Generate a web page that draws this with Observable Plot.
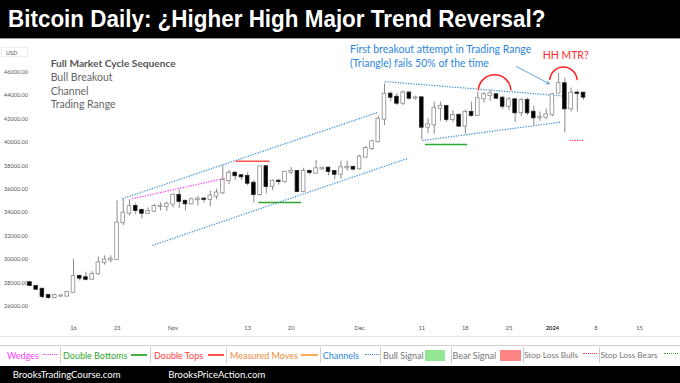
<!DOCTYPE html>
<html><head><meta charset="utf-8">
<script src="https://cdn.jsdelivr.net/npm/d3@7"></script>
<script src="https://cdn.jsdelivr.net/npm/@observablehq/plot@0.6"></script>
<style>
html,body{margin:0;padding:0;background:#fff;}
body{width:680px;height:383px;position:relative;overflow:hidden;font-family:Lato,"Open Sans",sans-serif;}
#title{position:absolute;left:0;top:0;width:680px;height:38px;background:#000;border-bottom:1px solid #9a9a9a;}
#title span{position:absolute;left:8px;top:0;color:#fff;font-family:"Liberation Sans Narrow","Liberation Sans",sans-serif;font-weight:bold;font-size:24px;line-height:37px;white-space:nowrap;transform:scaleX(0.935);transform-origin:0 50%;}
#chart{position:absolute;left:0;top:39px;width:680px;height:297px;border-bottom:1px solid #e6e6e6;}
.t{position:absolute;white-space:nowrap;line-height:14px;}
#legend{position:absolute;left:0;top:345px;width:680px;height:21px;border-top:1px solid #cfcfcf;}
.lg{position:absolute;top:2px;line-height:15px;font-size:9px;white-space:nowrap;}
.sep{position:absolute;top:1px;width:1px;height:16px;background:#cfcfcf;}
.sw{position:absolute;}
#footer{position:absolute;left:0;top:366px;width:680px;height:17px;background:#000;color:#fff;}
#footer span{position:absolute;top:1px;line-height:15px;font-size:9.5px;}
#usd{position:absolute;left:1px;top:47px;width:27px;height:10px;border:1px solid #ececec;font-size:5.5px;line-height:10px;color:#555;padding-left:4px;box-sizing:border-box;}
</style></head>
<body>
<div id="title"><span>Bitcoin Daily: ¿Higher High Major Trend Reversal?</span></div>
<div id="chart"></div>
<div id="usd">USD</div>
<div class="t" style="left:50.7px;top:56.3px;font-size:10.2px;font-weight:bold;color:#555;">Full Market Cycle Sequence</div>
<div class="t" style="left:50.7px;top:69.7px;font-size:10.5px;color:#666;">Bull Breakout</div>
<div class="t" style="left:50.7px;top:83.7px;font-size:10.5px;color:#666;">Channel</div>
<div class="t" style="left:50.7px;top:97px;font-size:10.5px;color:#666;">Trading Range</div>
<div class="t" style="left:350px;top:42.3px;font-size:10.5px;color:#2e86de;">First breakout attempt in Trading Range</div>
<div class="t" style="left:350px;top:56.3px;font-size:10.5px;color:#2e86de;">(Triangle) fails 50% of the time</div>
<div class="t" style="left:542.7px;top:48px;font-size:10.5px;color:#ff2a2a;">HH MTR?</div>

<div id="legend">
  <span class="lg" style="left:7px;color:#ff3cff;">Wedges</span>
  <span class="sw" style="left:43px;top:8px;width:14px;border-top:1.3px dotted #ff3cff;"></span>
  <span class="sep" style="left:60px;"></span>
  <span class="lg" style="left:63px;color:#2ea82e;">Double Bottoms</span>
  <span class="sw" style="left:131px;top:8px;width:16px;height:2px;background:#43b043;"></span>
  <span class="sep" style="left:150px;"></span>
  <span class="lg" style="left:154px;color:#ff3b3b;">Double Tops</span>
  <span class="sw" style="left:208px;top:8px;width:16px;height:2px;background:#ff5050;"></span>
  <span class="sep" style="left:226px;"></span>
  <span class="lg" style="left:230px;color:#ef8a3c;">Measured Moves</span>
  <span class="sw" style="left:301px;top:8px;width:17px;height:2px;background:#ffac5a;"></span>
  <span class="sep" style="left:320px;"></span>
  <span class="lg" style="left:322.7px;color:#2e86de;">Channels</span>
  <span class="sw" style="left:365px;top:8px;width:14px;border-top:1.3px dotted #3d8fd8;"></span>
  <span class="sep" style="left:380px;"></span>
  <span class="lg" style="left:383px;color:#777;">Bull Signal</span>
  <span class="sw" style="left:425px;top:4px;width:20px;height:11px;background:#94e694;"></span>
  <span class="sep" style="left:451px;"></span>
  <span class="lg" style="left:452.5px;color:#777;">Bear Signal</span>
  <span class="sw" style="left:500px;top:4px;width:21px;height:11px;background:#ff8585;"></span>
  <span class="sep" style="left:522.5px;"></span>
  <span class="lg" style="left:524px;color:#777;font-size:8.3px;">Stop Loss Bulls</span>
  <span class="sw" style="left:583px;top:7px;width:14px;border-top:1.3px dotted #ff3030;"></span>
  <span class="sep" style="left:598.5px;"></span>
  <span class="lg" style="left:600.5px;color:#777;font-size:8.3px;">Stop Loss Bears</span>
  <span class="sw" style="left:664px;top:7px;width:14px;border-top:1.3px dotted #33aa33;"></span>
</div>
<div id="footer"><span style="left:12.7px;">BrooksTradingCourse.com</span><span style="left:168.3px;">BrooksPriceAction.com</span></div>

<script>
// ---- candle data (daily, starting 2023-10-09) ----
const startDay = "2023-10-09";
const opens = [
  28000,27680,27450,26910,26740,26860,26860,27170,28540,28430,28310,28770,29730,29950,29990,33130,33950,34520,34180,33950,34120,34520,34520,
  34720,35460,34970,34750,35100,35150,35120,35400,35690,36740,37370,37150,37090,36510,35550,37920,36230,36680,36650,37450,37510,35800,37510,37370,37740,37800,37510,37280,37830,37860,
  37750,38740,39480,40050,41980,44120,43860,43350,44220,43780,43810,41300,41500,42920,43070,41960,42300,41390,42560,42300,43730,44010,44070,43780,43090,43640,42530,43580,42580,42100,42150,
  42360,44210,45010,42870,44210,44210];
const highs = [
  28100,27750,27500,26950,27050,26950,27250,30000,28600,28900,28950,30200,30300,30300,35000,35150,35100,34800,34300,34400,34700,34850,34900,
  35600,35950,35000,35250,35400,35300,35850,36000,38000,37600,37450,37250,37400,36750,37950,37950,36800,36850,37500,37850,37550,37800,37650,38450,37850,37850,37550,38400,38400,38000,
  38900,39650,40200,42250,45000,44300,44200,44400,44300,43950,43850,42050,43450,43450,43100,42700,42450,42750,43450,44300,44250,44400,44100,43950,43850,43650,43750,43800,43100,42600,42850,
  44200,45900,45500,44650,44400,44250];
const lows = [
  27700,27350,26630,26600,26700,26800,26800,27100,28150,28150,28200,28650,29500,29700,29900,32900,33700,33800,33450,33900,34000,34150,34100,
  34400,34350,34150,34650,34550,34800,34500,35100,35550,36400,36750,36750,36300,34800,35400,35600,35900,36350,36500,37250,35700,35700,37200,37300,37600,37150,36800,36850,37550,37550,
  37650,38650,39300,39950,41450,43450,43150,43150,43600,43600,40220,40750,40700,41800,41700,41700,41300,40700,42150,42200,43350,43500,43650,42800,42750,41700,42200,42300,41400,41800,41950,
  42200,44150,40800,42600,42600,43600];
const closes = [
  27770,27450,26830,26740,26900,26870,27180,28520,28400,28300,28720,29700,29950,30020,33100,33950,34500,34180,33950,34100,34520,34540,34720,
  35480,34960,34750,35100,35150,35130,35420,35680,36740,37370,37150,37060,36510,35550,37900,36230,36680,36650,37450,37510,35800,37510,37420,37740,37800,37510,37280,37830,37880,37720,
  38740,39480,40050,41980,44120,43860,43350,44220,43780,43800,41300,41500,42920,43070,41960,42300,41390,42560,42300,43730,44070,44150,43780,43090,43640,42530,43580,42530,42100,42150,42360,
  44070,45010,42870,44210,44190,43870];

// ---- axes ----
const yTicks = [26000,28000,30000,32000,34000,36000,38000,40000,42000,44000,46000];
const xTickDates = ["2023-10-16","2023-10-23","2023-11-01","2023-11-13","2023-11-20","2023-12-01","2023-12-11","2023-12-18","2023-12-25","2024-01-01","2024-01-08","2024-01-15"];
const xTickLabels = ["16","23","Nov","13","20","Dec","11","18","25","2024","8","15"];
const xDomain = ["2023-10-06","2024-01-20"];
const yDomain = [25000, 47000];

// ---- annotations (date, price) ----
const channelX1 = ["2023-10-23T20:00Z","2023-10-28T16:00Z","2023-12-05T01:00Z","2023-12-11T01:30Z"];
const channelY1 = [35180, 31190, 45200, 40160];
const channelX2 = ["2023-12-04T00:00Z","2023-12-08T20:00Z","2024-01-02T14:00Z","2024-01-02T07:00Z"];
const channelY2 = [42580, 38650, 43970, 41730];
const wedgeX1 = ["2023-10-25T10:00Z"], wedgeY1 = [35180], wedgeX2 = ["2023-11-09T10:00Z"], wedgeY2 = [36940];
const doubleTopX1 = ["2023-11-11T01:00Z"], doubleTopX2 = ["2023-11-16T12:00Z"], doubleTopY = [38390];
const doubleBottomX1 = ["2023-11-14T17:00Z","2023-12-11T12:00Z"], doubleBottomX2 = ["2023-11-21T14:00Z","2023-12-18T07:00Z"], doubleBottomY = [34860, 39820];
const stopBullsX1 = ["2024-01-03T19:00Z"], stopBullsX2 = ["2024-01-06T00:00Z"], stopBullsY = [40160];
const arcX1 = ["2023-12-20T02:00Z","2023-12-31T14:00Z"], arcX2 = ["2023-12-25T08:00Z","2024-01-04T23:00Z"], arcY = [44500, 45380];
const arrowX1 = ["2023-12-26T05:00Z"], arrowY1 = [46490], arrowX2 = ["2023-12-31T12:00Z"], arrowY2 = [45010];

const dates = d3.utcDay.range(new Date(startDay), d3.utcDay.offset(new Date(startDay), opens.length));
const candles = dates.map((date, i) => ({date, open: opens[i], high: highs[i], low: lows[i], close: closes[i]}));
const seg = (x1, y1, x2, y2) => x1.map((x, i) => ({x1: new Date(x), y1: y1[i], x2: new Date(x2[i]), y2: y2[i]}));
const tickLabel = new Map(xTickDates.map((d, i) => [+new Date(d), xTickLabels[i]]));
const normalTicks = xTickDates.filter((d, i) => xTickLabels[i] !== "2024").map(d => new Date(d));
const boldTicks = xTickDates.filter((d, i) => xTickLabels[i] === "2024").map(d => new Date(d));

const blue = "#3d8fd8";
const chart = Plot.plot({
  width: 680, height: 297,
  marginLeft: 10.8, marginRight: 9.9, marginTop: 21, marginBottom: 18.6,
  style: {fontFamily: "Lato, 'Open Sans', sans-serif", background: "transparent"},
  x: {type: "utc", domain: xDomain.map(d => new Date(d))},
  y: {domain: yDomain},
  marks: [
    Plot.axisY(yTicks, {anchor: "left", tickSize: 0, tickPadding: 0, textAnchor: "start", dx: -7.4, tickFormat: d => d.toFixed(2), fontSize: 5.6, color: "#555", label: null}),
    Plot.axisX(normalTicks, {tickSize: 0, tickPadding: 8, tickFormat: d => tickLabel.get(+d), fontSize: 5.8, color: "#555", label: null}),
    Plot.axisX(boldTicks, {tickSize: 0, tickPadding: 8, tickFormat: d => tickLabel.get(+d), fontSize: 5.8, fontWeight: "bold", color: "#333", label: null}),
    Plot.link(seg(channelX1, channelY1, channelX2, channelY2), {x1: "x1", y1: "y1", x2: "x2", y2: "y2", stroke: blue, strokeWidth: 1.2, strokeDasharray: "1.3 1.3"}),
    Plot.link(seg(wedgeX1, wedgeY1, wedgeX2, wedgeY2), {x1: "x1", y1: "y1", x2: "x2", y2: "y2", stroke: "#ff3cff", strokeWidth: 1.2, strokeDasharray: "1.3 1.3"}),
    Plot.link(seg(doubleTopX1, doubleTopY, doubleTopX2, doubleTopY), {x1: "x1", y1: "y1", x2: "x2", y2: "y2", stroke: "#ff5050", strokeWidth: 1.5}),
    Plot.link(seg(doubleBottomX1, doubleBottomY, doubleBottomX2, doubleBottomY), {x1: "x1", y1: "y1", x2: "x2", y2: "y2", stroke: "#2ea82e", strokeWidth: 1.5}),
    Plot.link(seg(stopBullsX1, stopBullsY, stopBullsX2, stopBullsY), {x1: "x1", y1: "y1", x2: "x2", y2: "y2", stroke: "#ff3030", strokeWidth: 1.1, strokeDasharray: "1.2 1.2"}),
    Plot.ruleX(candles, {x: "date", y1: "low", y2: "high", stroke: "#8a8a8a", strokeWidth: 1}),
    Plot.rect(candles, {
      x1: d => d3.utcHour.offset(d.date, -7), x2: d => d3.utcHour.offset(d.date, 7),
      y1: "open", y2: "close",
      fill: d => d.close < d.open ? "#000000" : "#ffffff",
      stroke: d => d.close < d.open ? "#222222" : "#8a8a8a",
      strokeWidth: 0.8, insetTop: -0.5, insetBottom: -0.5
    }),
    Plot.arrow(seg(arcX1, arcY, arcX2, arcY), {x1: "x1", y1: "y1", x2: "x2", y2: "y2", bend: 85, headLength: 0, stroke: "#ff2020", strokeWidth: 1.5}),
    Plot.arrow(seg(arrowX1, arrowY1, arrowX2, arrowY2), {x1: "x1", y1: "y1", x2: "x2", y2: "y2", headLength: 6, stroke: blue, strokeWidth: 0.8})
  ]
});
document.getElementById("chart").appendChild(chart);
</script>
</body></html>
